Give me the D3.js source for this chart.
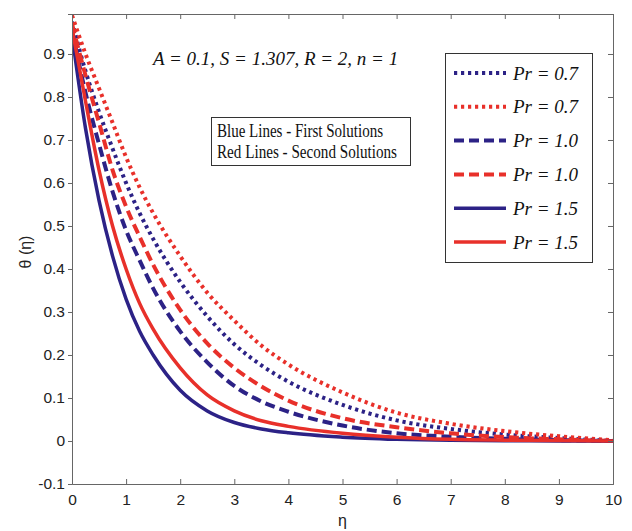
<!DOCTYPE html>
<html>
<head>
<meta charset="utf-8">
<script src="https://cdn.jsdelivr.net/npm/d3@7"></script>
<style>
  body { margin: 0; background: #fff; }
  svg { display: block; }
  .tick text { font-family: Arial, "Liberation Sans", sans-serif; font-size: 15.5px; fill: #222; }
</style>
</head>
<body>
<div id="chart"></div>
<script>
// Chart data.
var etaValues = [0, 0.25, 0.5, 0.75, 1, 1.25, 1.5, 2, 2.5, 3, 3.5, 4, 5, 6, 7, 8, 9, 10];

var thetaPr07First  = [0.975, 0.86, 0.765, 0.68, 0.6, 0.53, 0.47, 0.37, 0.29, 0.225, 0.176, 0.138, 0.084, 0.048, 0.028, 0.015, 0.007, 0];
var thetaPr07Second = [0.99, 0.9, 0.82, 0.74, 0.66, 0.59, 0.53, 0.43, 0.345, 0.28, 0.222, 0.178, 0.113, 0.066, 0.04, 0.023, 0.011, 0.002];
var thetaPr10First  = [0.955, 0.81, 0.69, 0.58, 0.49, 0.42, 0.355, 0.255, 0.183, 0.128, 0.092, 0.068, 0.036, 0.018, 0.01, 0.005, 0.002, 0];
var thetaPr10Second = [0.97, 0.85, 0.74, 0.63, 0.545, 0.475, 0.41, 0.305, 0.227, 0.17, 0.127, 0.094, 0.053, 0.032, 0.018, 0.009, 0.004, 0];
var thetaPr15First  = [0.945, 0.727, 0.559, 0.43, 0.33, 0.255, 0.2, 0.118, 0.07, 0.043, 0.028, 0.019, 0.009, 0.004, 0.0015, 0.0006, 0.0002, 0];
var thetaPr15Second = [0.96, 0.79, 0.63, 0.5, 0.4, 0.32, 0.26, 0.17, 0.107, 0.07, 0.047, 0.034, 0.018, 0.009, 0.004, 0.002, 0.001, 0];

var seriesLabels = ["Pr = 0.7", "Pr = 0.7", "Pr = 1.0", "Pr = 1.0", "Pr = 1.5", "Pr = 1.5"];
var xTicks = [0, 1, 2, 3, 4, 5, 6, 7, 8, 9, 10];
var yTicks = [-0.1, 0, 0.1, 0.2, 0.3, 0.4, 0.5, 0.6, 0.7, 0.8, 0.9];

var seriesValues = [thetaPr07First, thetaPr07Second, thetaPr10First, thetaPr10Second, thetaPr15First, thetaPr15Second];

// Styles for each series, same order as above.
var blue = "#2c2286";
var red = "#e8302a";
var seriesStyles = [
    { color: blue, dash: "3.2,3.8", width: 4 },
    { color: red,  dash: "3.2,3.8", width: 4 },
    { color: blue, dash: "10,5", width: 4 },
    { color: red,  dash: "10,5", width: 4 },
    { color: blue, dash: null, width: 3.5 },
    { color: red,  dash: null, width: 3.5 }
];

var svgWidth = 632;
var svgHeight = 531;

var margin = {
    top: 14,
    bottom: 47,
    right: 19,
    left: 72
};

var height = svgHeight - margin.top - margin.bottom;
var width = svgWidth - margin.left - margin.right;

var svg = d3.select("#chart")
    .append("svg")
    .attr("width", svgWidth)
    .attr("height", svgHeight);

var chartGroup = svg.append("g")
    .attr("transform", `translate(${margin.left}, ${margin.top})`);

// Scales.
var xLinearScale = d3.scaleLinear()
    .domain([0, 10])
    .range([0, width]);

var yLinearScale = d3.scaleLinear()
    .domain([-0.1, 0.993])
    .range([height, 0]);

// Clip so the thick lines stay inside the box.
svg.append("clipPath")
    .attr("id", "plotClip")
    .append("rect")
    .attr("width", width)
    .attr("height", height);

// Lines.
var line = d3.line()
    .x((d, i) => xLinearScale(etaValues[i]))
    .y(d => yLinearScale(d))
    .curve(d3.curveMonotoneX);

var linesGroup = chartGroup.append("g")
    .attr("clip-path", "url(#plotClip)");

linesGroup.selectAll("path")
    .data(seriesValues)
    .enter()
    .append("path")
    .attr("d", d => line(d))
    .attr("fill", "none")
    .attr("stroke", (d, i) => seriesStyles[i].color)
    .attr("stroke-width", (d, i) => seriesStyles[i].width)
    .attr("stroke-dasharray", (d, i) => seriesStyles[i].dash);

// Axes (matlab style box, ticks inside except left).
var axisColor = "#666";

var bottomAxis = d3.axisBottom(xLinearScale).tickValues(xTicks).tickSize(-5).tickPadding(10).tickFormat(d3.format("d"));
var topAxis = d3.axisTop(xLinearScale).tickValues(xTicks).tickSize(-5).tickFormat("");
var leftAxis = d3.axisLeft(yLinearScale).tickValues(yTicks).tickSize(4).tickPadding(3)
    .tickFormat(d => String(+d.toFixed(1)));
var rightAxis = d3.axisRight(yLinearScale).tickValues(yTicks).tickSize(-5).tickFormat("");

function styleAxis(g) {
    g.select(".domain").attr("stroke", axisColor);
    g.selectAll(".tick line").attr("stroke", axisColor);
}

chartGroup.append("g")
    .attr("transform", `translate(0, ${height})`)
    .call(bottomAxis)
    .call(styleAxis);

chartGroup.append("g")
    .call(topAxis)
    .call(styleAxis);

chartGroup.append("g")
    .call(leftAxis)
    .call(styleAxis);

chartGroup.append("g")
    .attr("transform", `translate(${width}, 0)`)
    .call(rightAxis)
    .call(styleAxis);

// Axis labels.
chartGroup.append("text")
    .attr("transform", `translate(${25 - margin.left}, ${252 - margin.top}) rotate(-90)`)
    .attr("text-anchor", "middle")
    .attr("dy", "0.35em")
    .style("font-family", "Arial, 'Liberation Sans', sans-serif")
    .style("font-size", "16px")
    .style("fill", "#222")
    .text("θ (η)");

chartGroup.append("text")
    .attr("x", width / 2)
    .attr("y", height + 42)
    .attr("text-anchor", "middle")
    .style("font-family", "Arial, 'Liberation Sans', sans-serif")
    .style("font-size", "16px")
    .style("fill", "#222")
    .text("η");

// Parameter annotation.
svg.append("text")
    .attr("x", 153)
    .attr("y", 65)
    .style("font-family", "'Liberation Serif', 'Times New Roman', serif")
    .style("font-style", "italic")
    .style("font-size", "19px")
    .style("fill", "#111")
    .text("A = 0.1, S = 1.307, R = 2, n = 1");

// Note box.
svg.append("rect")
    .attr("x", 211.5)
    .attr("y", 117.5)
    .attr("width", 199)
    .attr("height", 48)
    .attr("fill", "#fff")
    .attr("stroke", "#333");

svg.append("text")
    .attr("x", 217)
    .attr("y", 137)
    .attr("textLength", 166)
    .attr("lengthAdjust", "spacingAndGlyphs")
    .style("font-family", "'Liberation Serif', 'Times New Roman', serif")
    .style("font-size", "19px")
    .style("fill", "#111")
    .text("Blue Lines - First Solutions");

svg.append("text")
    .attr("x", 217)
    .attr("y", 158)
    .attr("textLength", 180)
    .attr("lengthAdjust", "spacingAndGlyphs")
    .style("font-family", "'Liberation Serif', 'Times New Roman', serif")
    .style("font-size", "19px")
    .style("fill", "#111")
    .text("Red Lines - Second Solutions");

// Legend.
var legend = svg.append("g");

legend.append("rect")
    .attr("x", 445.5)
    .attr("y", 53.5)
    .attr("width", 147)
    .attr("height", 209)
    .attr("fill", "#fff")
    .attr("stroke", "#333");

var legendRows = legend.selectAll("g.row")
    .data(seriesLabels)
    .enter()
    .append("g")
    .attr("class", "row")
    .attr("transform", (d, i) => `translate(0, ${73 + i * 33.8})`);

legendRows.append("line")
    .attr("x1", 454)
    .attr("x2", 506)
    .attr("stroke", (d, i) => seriesStyles[i].color)
    .attr("stroke-width", (d, i) => seriesStyles[i].width)
    .attr("stroke-dasharray", (d, i) => seriesStyles[i].dash);

legendRows.append("text")
    .attr("x", 513)
    .attr("dy", "0.35em")
    .style("font-family", "'Liberation Serif', 'Times New Roman', serif")
    .style("font-style", "italic")
    .style("font-size", "19px")
    .style("fill", "#111")
    .text(d => d);
</script>
</body>
</html>
